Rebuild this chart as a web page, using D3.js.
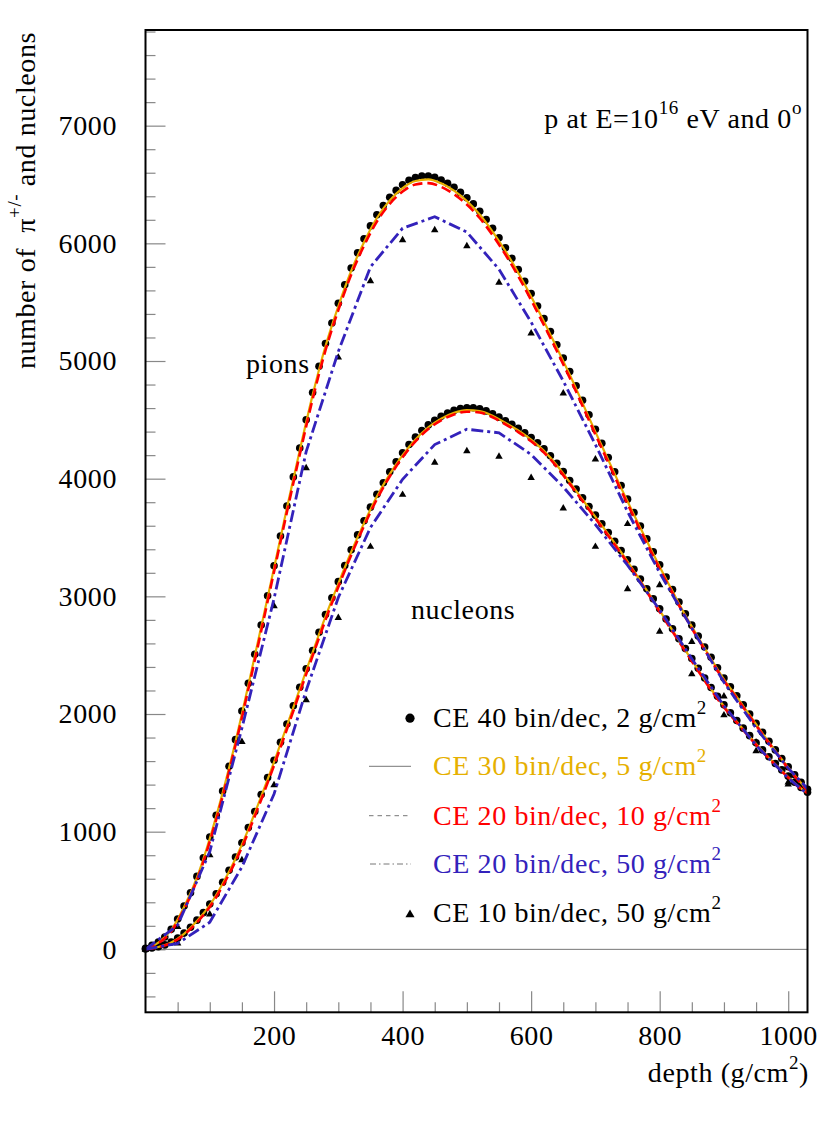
<!DOCTYPE html>
<html>
<head>
<meta charset="utf-8">
<title>pions and nucleons vs depth</title>
<script src="https://d3js.org/d3.v7.min.js"></script>
<style>
  body { margin: 0; background: #fff; }
  text { font-family: "Liberation Serif", "Times New Roman", serif; letter-spacing: 0.6px; }
</style>
</head>
<body>
<svg width="830" height="1147"></svg>
<script>
// depth grids (g/cm^2) for each kind of run
const depthFine = d3.range(0, 1031, 10);              // CE 40 bin/dec dots
const depthMid = d3.range(0, 1021, 20).concat([1030]); // smooth curves
const depthCoarse = d3.range(0, 1051, 50);             // 50 g/cm^2 dash-dot
const depthTri = d3.range(0, 1001, 50);                // 50 g/cm^2 triangles

// pions
const pionCE40 = [
  8, 35, 62, 105, 170, 258, 368, 480, 620, 778,
  955, 1140, 1345, 1555, 1782, 2025, 2262, 2508, 2757, 3005,
  3260, 3513, 3768, 4015, 4260, 4500, 4732, 4956, 5148, 5322,
  5490, 5648, 5790, 5920, 6038, 6148, 6242, 6322, 6392, 6450,
  6498, 6536, 6560, 6572, 6572, 6561, 6538, 6510, 6476, 6433,
  6388, 6335, 6272, 6202, 6128, 6048, 5963, 5873, 5778, 5678,
  5574, 5468, 5360, 5250, 5138, 5025, 4910, 4790, 4666, 4543,
  4420, 4300, 4180, 4058, 3942, 3826, 3712, 3598, 3488, 3378,
  3268, 3165, 3058, 2952, 2852, 2755, 2662, 2570, 2482, 2393,
  2305, 2232, 2155, 2078, 2000, 1922, 1845, 1768, 1695, 1622,
  1552, 1484, 1420, 1360
];
const pionCE30 = [
  5, 58, 165, 360, 610, 942, 1330, 1765, 2245, 2740,
  3242, 3750, 4240, 4710, 5125, 5465, 5765, 6010, 6215, 6365,
  6470, 6530, 6543, 6510, 6448, 6360, 6245, 6100, 5935, 5750,
  5548, 5335, 5112, 4885, 4642, 4398, 4160, 3922, 3693, 3470,
  3252, 3043, 2838, 2650, 2470, 2295, 2145, 1990, 1836, 1687,
  1545, 1414, 1355
];
const pionCE20 = [
  4, 52, 152, 340, 588, 915, 1300, 1735, 2210, 2705,
  3210, 3715, 4205, 4675, 5090, 5432, 5733, 5980, 6185, 6335,
  6440, 6500, 6512, 6480, 6418, 6330, 6215, 6070, 5905, 5720,
  5518, 5305, 5085, 4858, 4618, 4375, 4138, 3900, 3673, 3450,
  3234, 3027, 2823, 2636, 2457, 2283, 2134, 1980, 1827, 1680,
  1538, 1408, 1350
];
const pionCE20coarse = [
  0, 205, 830, 1880, 2980, 4230, 5080, 5800, 6128, 6226, 6095,
  5780, 5330, 4830, 4290, 3720, 3200, 2730, 2270, 1880, 1540, 1250
];
const pionCE10 = [
  0, 192, 801, 1764, 2918, 4090, 5030, 5680, 6028, 6113, 5977,
  5666, 5235, 4725, 4165, 3615, 3096, 2614, 2150, 1760, 1420
];

// nucleons
const nuclCE40 = [
  3, 12, 22, 38, 62, 95, 138, 188, 248, 312,
  385, 472, 570, 672, 785, 905, 1035, 1172, 1315, 1460,
  1607, 1760, 1915, 2070, 2228, 2385, 2540, 2695, 2845, 2988,
  3125, 3262, 3395, 3522, 3642, 3758, 3868, 3965, 4058, 4144,
  4220, 4290, 4353, 4410, 4457, 4497, 4530, 4558, 4580, 4595,
  4603, 4603, 4594, 4576, 4552, 4523, 4492, 4462, 4428, 4390,
  4350, 4305, 4253, 4195, 4130, 4060, 3985, 3912, 3838, 3763,
  3690, 3617, 3543, 3468, 3390, 3310, 3230, 3148, 3065, 2980,
  2895, 2808, 2724, 2640, 2556, 2472, 2388, 2305, 2225, 2150,
  2078, 2010, 1945, 1880, 1816, 1755, 1695, 1637, 1580, 1525,
  1472, 1420, 1375, 1335
];
const nuclCE30 = [
  2, 20, 58, 132, 240, 375, 558, 770, 1020, 1300,
  1592, 1900, 2212, 2524, 2828, 3108, 3377, 3622, 3848, 4038,
  4200, 4333, 4437, 4510, 4560, 4583, 4575, 4535, 4475, 4410,
  4332, 4236, 4114, 3970, 3823, 3675, 3528, 3375, 3215, 3050,
  2880, 2710, 2542, 2375, 2212, 2066, 1934, 1806, 1686, 1572,
  1465, 1368, 1330
];
const nuclCE20 = [
  2, 18, 54, 124, 228, 360, 538, 748, 995, 1272,
  1563, 1870, 2182, 2494, 2798, 3080, 3350, 3598, 3825, 4018,
  4182, 4317, 4422, 4496, 4546, 4569, 4562, 4522, 4462, 4396,
  4318, 4222, 4100, 3956, 3810, 3662, 3515, 3362, 3203, 3038,
  2869, 2700, 2532, 2366, 2204, 2058, 1927, 1800, 1680, 1567,
  1460, 1364, 1327
];
const nuclCE20coarse = [
  0, 50, 230, 700, 1320, 2200, 2990, 3585, 3995, 4290, 4420,
  4390, 4205, 3930, 3610, 3265, 2885, 2470, 2070, 1735, 1455, 1230
];
const nuclCE10 = [
  0, 51, 297, 759, 1396, 2119, 2818, 3422, 3864, 4136, 4235,
  4187, 4008, 3748, 3422, 3062, 2700, 2340, 1990, 1685, 1402
];

const yMajorTicks = [0, 1000, 2000, 3000, 4000, 5000, 6000, 7000];
const xMajorTicks = [200, 400, 600, 800, 1000];

const legendLabels = [
  "CE 40 bin/dec, 2 g/cm",
  "CE 30 bin/dec, 5 g/cm",
  "CE 20 bin/dec, 10 g/cm",
  "CE 20 bin/dec, 50 g/cm",
  "CE 10 bin/dec, 50 g/cm"
];

const yellow = "#e6b000", red = "#ff0000", blue = "#3322bb", tickGrey = "#888";

const svg = d3.select("svg");
const frame = {left: 145.5, right: 807.5, top: 30, bottom: 1012.3};

const x = d3.scaleLinear().domain([0, 1030]).range([frame.left, frame.right]);
const y = d3.scaleLinear().domain([-535, 7813]).range([frame.bottom, frame.top]);

const zip = (xs, ys) => xs.map((d, i) => [d, ys[i]]);

// minor ticks first, then major with labels
const yMinor = d3.range(-400, 7801, 200).filter(v => v % 1000 !== 0);
const xMinor = d3.range(50, 1030, 50).filter(v => v % 200 !== 0);

const yMinorAxis = svg.append("g")
    .attr("transform", `translate(${frame.left},0)`)
    .call(d3.axisLeft(y).tickValues(yMinor).tickSize(-10).tickFormat(""));
const yAxis = svg.append("g")
    .attr("transform", `translate(${frame.left},0)`)
    .call(d3.axisLeft(y).tickValues(yMajorTicks).tickSize(-20).tickPadding(28.5)
        .tickFormat(d3.format("d")));
const xMinorAxis = svg.append("g")
    .attr("transform", `translate(0,${frame.bottom})`)
    .call(d3.axisBottom(x).tickValues(xMinor).tickSize(-10).tickFormat(""));
const xAxis = svg.append("g")
    .attr("transform", `translate(0,${frame.bottom})`)
    .call(d3.axisBottom(x).tickValues(xMajorTicks).tickSize(-21).tickPadding(12.8)
        .tickFormat(d3.format("d")));

[yMinorAxis, yAxis, xMinorAxis, xAxis].forEach(g => {
    g.select(".domain").remove();
    g.selectAll(".tick line").attr("stroke", tickGrey).attr("stroke-width", 1.2);
    g.selectAll(".tick text")
        .attr("fill", "#000")
        .style("font-family", "'Liberation Serif', serif")
        .style("font-size", "28px");
});

// zero line
svg.append("line")
    .attr("x1", frame.left).attr("x2", frame.right)
    .attr("y1", y(0)).attr("y2", y(0))
    .attr("stroke", "#777").attr("stroke-width", 1);

svg.append("clipPath").attr("id", "clip")
  .append("rect")
    .attr("x", frame.left).attr("y", frame.top)
    .attr("width", frame.right - frame.left)
    .attr("height", frame.bottom - frame.top);

const plot = svg.append("g");
const lines = svg.append("g").attr("clip-path", "url(#clip)");

const smooth = d3.line().x(d => x(d[0])).y(d => y(d[1])).curve(d3.curveMonotoneX);
const straight = d3.line().x(d => x(d[0])).y(d => y(d[1]));

// CE 40 dots
[pionCE40, nuclCE40].forEach(vals => {
    plot.append("g").selectAll("circle")
        .data(zip(depthFine, vals))
        .join("circle")
        .attr("cx", d => x(d[0]))
        .attr("cy", d => y(d[1]))
        .attr("r", 3.8)
        .attr("fill", "#000");
});

// CE 10 triangles
const tri = d3.symbol().type(d3.symbolTriangle).size(24);
[pionCE10, nuclCE10].forEach(vals => {
    plot.append("g").selectAll("path")
        .data(zip(depthTri, vals))
        .join("path")
        .attr("d", tri)
        .attr("transform", d => `translate(${x(d[0])},${y(d[1])})`)
        .attr("fill", "#000");
});

[pionCE30, nuclCE30].forEach(vals => {
    lines.append("path")
        .attr("d", smooth(zip(depthMid, vals)))
        .attr("fill", "none")
        .attr("stroke", yellow)
        .attr("stroke-width", 2.2);
});

[pionCE20, nuclCE20].forEach(vals => {
    lines.append("path")
        .attr("d", smooth(zip(depthMid, vals)))
        .attr("fill", "none")
        .attr("stroke", red)
        .attr("stroke-width", 2.6)
        .attr("stroke-dasharray", "10,5");
});

[pionCE20coarse, nuclCE20coarse].forEach(vals => {
    lines.append("path")
        .attr("d", straight(zip(depthCoarse, vals)))
        .attr("fill", "none")
        .attr("stroke", blue)
        .attr("stroke-width", 2.8)
        .attr("stroke-dasharray", "12,4,3,4");
});

// frame
svg.append("rect")
    .attr("x", frame.left).attr("y", frame.top)
    .attr("width", frame.right - frame.left)
    .attr("height", frame.bottom - frame.top)
    .attr("fill", "none")
    .attr("stroke", "#000")
    .attr("stroke-width", 2);

// labels
svg.append("text").attr("x", 246).attr("y", 373)
    .style("font-size", "28px").text("pions");
svg.append("text").attr("x", 411).attr("y", 619)
    .style("font-size", "28px").text("nucleons");

const title = svg.append("text")
    .attr("x", 802).attr("y", 128)
    .attr("text-anchor", "end")
    .style("font-size", "28px");
title.append("tspan").text("p at E=10");
title.append("tspan").attr("dy", -14).style("font-size", "19px").text("16");
title.append("tspan").attr("dy", 14).text(" eV and 0");
title.append("tspan").attr("dy", -14).style("font-size", "19px").text("o");

const yTitle = svg.append("text")
    .attr("transform", "translate(35,32) rotate(-90)")
    .attr("text-anchor", "end")
    .style("font-size", "28px");
yTitle.append("tspan").text("number of \u00a0\u03c0");
yTitle.append("tspan").attr("dy", -14).style("font-size", "19px").text("+/-");
yTitle.append("tspan").attr("dy", 14).text(" and nucleons");

const xTitle = svg.append("text")
    .attr("x", 809).attr("y", 1082)
    .attr("text-anchor", "end")
    .style("font-size", "28px");
xTitle.append("tspan").text("depth (g/cm");
xTitle.append("tspan").attr("dy", -13).style("font-size", "19px").text("2");
xTitle.append("tspan").attr("dy", 13).text(")");

// legend
const legendY = [726.7, 775, 825, 873.3, 921.7];
const legendColors = ["#000", yellow, red, blue, "#000"];
const legend = svg.append("g");

legend.append("circle").attr("cx", 410).attr("cy", legendY[0] - 8.5)
    .attr("r", 4.6).attr("fill", "#000");
legend.append("line").attr("x1", 369).attr("x2", 411)
    .attr("y1", legendY[1] - 8.7).attr("y2", legendY[1] - 8.7)
    .attr("stroke", "#777").attr("stroke-width", 1);
legend.append("line").attr("x1", 369).attr("x2", 411)
    .attr("y1", legendY[2] - 9.3).attr("y2", legendY[2] - 9.3)
    .attr("stroke", "#777").attr("stroke-width", 1)
    .attr("stroke-dasharray", "4.5,4");
legend.append("line").attr("x1", 370).attr("x2", 411)
    .attr("y1", legendY[3] - 9.3).attr("y2", legendY[3] - 9.3)
    .attr("stroke", "#777").attr("stroke-width", 1)
    .attr("stroke-dasharray", "6,3,1.5,3");
legend.append("path")
    .attr("d", d3.symbol().type(d3.symbolTriangle).size(36)())
    .attr("transform", `translate(410,${legendY[4] - 7})`)
    .attr("fill", "#000");

legendLabels.forEach((lab, i) => {
    const t = legend.append("text")
        .attr("x", 433).attr("y", legendY[i])
        .attr("fill", legendColors[i])
        .style("font-size", "28px");
    t.append("tspan").text(lab);
    t.append("tspan").attr("dy", -13).style("font-size", "19px").text("2");
});
</script>
</body>
</html>
